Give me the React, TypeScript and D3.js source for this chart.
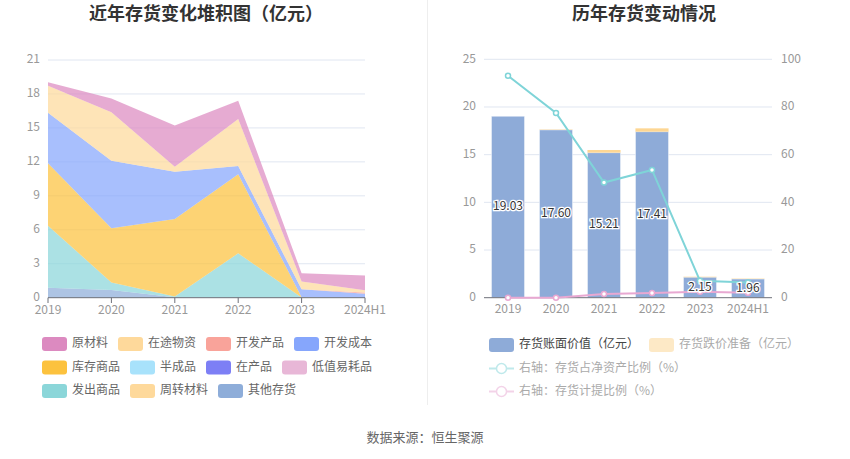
import React from 'react';
import * as d3 from 'd3';

const years = ['2019', '2020', '2021', '2022', '2023', '2024H1'];

// Left chart: stacked inventory composition (亿元)
const 原材料 = [0.30, 1.22, 3.63, 1.62, 0.71, 1.31];
const 在途物资 = [2.38, 4.27, 0.45, 4.16, 0.70, 0.20];
const 开发产品 = [0, 0, 0, 0, 0, 0.10];
const 开发成本 = [4.48, 5.98, 4.18, 0.73, 0.69, 0.35];
const 库存商品 = [5.51, 4.78, 6.85, 6.98, 0.03, 0];
const 半成品 = [0, 0, 0, 0, 0, 0];
const 在产品 = [0, 0, 0, 0, 0, 0];
const 低值易耗品 = [0, 0, 0, 0, 0, 0];
const 发出商品 = [5.48, 0.67, 0.05, 3.92, 0.02, 0];
const 周转材料 = [0, 0, 0, 0, 0, 0];
const 其他存货 = [0.88, 0.68, 0.05, 0, 0, 0];

const leftTicks = [0, 3, 6, 9, 12, 15, 18, 21];

// Right chart
const 账面价值 = [19.03, 17.60, 15.21, 17.41, 2.15, 1.96];
const 跌价准备 = [0, 0.04, 0.28, 0.35, 0.05, 0.04];
const 占净资产比例 = [93.1, 77.5, 48.3, 53.6, 7.1, 6.4];
const 计提比例 = [0, 0, 1.6, 2.0, 2.5, 2.1];
const rightTicksL = [0, 5, 10, 15, 20, 25];
const rightTicksR = [0, 20, 40, 60, 80, 100];

const legendNames = ['原材料', '在途物资', '开发产品', '开发成本', '库存商品', '半成品', '在产品', '低值易耗品', '发出商品', '周转材料', '其他存货'];
const legendColors = ['#dc8ac0', '#fed99b', '#f9a39a', '#86a6fc', '#fcc23e', '#a8e2fb', '#7d7ff5', '#e8b7d7', '#8bd6d9', '#fed99b', '#8eadd9'];
const seriesValues: Record<string, number[]> = { 原材料, 在途物资, 开发产品, 开发成本, 库存商品, 半成品, 在产品, 低值易耗品, 发出商品, 周转材料, 其他存货 };

const FONT = "'Noto Sans CJK SC', 'Noto Sans', sans-serif";

export default function App() {
  // ---------- Left chart ----------
  const lx = d3.scalePoint<string>().domain(years).range([48, 365]);
  const ly = d3.scaleLinear().domain([0, 21]).range([297.7, 60]);
  const stackKeys = [...legendNames].reverse();
  const table = years.map((y, i) => {
    const row: any = { year: y };
    legendNames.forEach((n) => (row[n] = seriesValues[n][i]));
    return row;
  });
  const stacked = d3.stack<any>().keys(stackKeys)(table);
  const area = d3
    .area<any>()
    .x((d) => lx(d.data.year) as number)
    .y0((d) => ly(d[0]))
    .y1((d) => ly(d[1]));
  const colorOf = (n: string) => legendColors[legendNames.indexOf(n)];

  // Left legend layout (flow)
  const legendItems: { name: string; color: string; x: number; y: number }[] = [];
  {
    const startX = 42;
    const maxX = 380;
    let x = startX;
    let y = 344;
    legendNames.forEach((n, i) => {
      const w = 25 + 5 + n.length * 12;
      if (x + w > maxX) {
        x = startX;
        y += 23.5;
      }
      legendItems.push({ name: n, color: legendColors[i], x, y });
      x += w + 10;
    });
  }

  // ---------- Right chart ----------
  const rx = d3.scaleBand<string>().domain(years).range([484, 772]).padding(0);
  const ryL = d3.scaleLinear().domain([0, 25]).range([297.7, 59.3]);
  const ryR = d3.scaleLinear().domain([0, 100]).range([297.7, 59.3]);
  const barW = rx.bandwidth() * 0.69;
  const cx = (y: string) => (rx(y) as number) + rx.bandwidth() / 2;
  const line = d3
    .line<number>()
    .x((_, i) => cx(years[i]))
    .y((d) => ryR(d));

  const tealColor = '#7fd4d8';
  const pinkColor = '#e8a8d2';

  return (
    <svg
      width={850}
      height={459}
      style={{ position: 'absolute', left: 0, top: 0, background: '#fff', fontFamily: FONT }}
    >
      {/* Titles */}
      <text x={206} y={20} textAnchor="middle" fontSize={18} fontWeight="bold" fill="#333">
        近年存货变化堆积图（亿元）
      </text>
      <text x={644} y={20} textAnchor="middle" fontSize={18} fontWeight="bold" fill="#333">
        历年存货变动情况
      </text>
      {/* divider */}
      <line x1={427.5} x2={427.5} y1={0} y2={405} stroke="#eeeeee" strokeWidth={1} />

      {/* ---------- Left chart ---------- */}
      <g>
        {leftTicks.map((t) => (
          <g key={t}>
            {t !== 0 && (
              <line x1={48} x2={365} y1={ly(t)} y2={ly(t)} stroke="#e0e6f1" strokeWidth={1} />
            )}
            <text x={40} y={ly(t)} textAnchor="end" dominantBaseline="middle" fontSize={12} fill="#999">
              {t}
            </text>
          </g>
        ))}
        {stacked.map((s) => (
          <path key={s.key} d={area(s) || ''} fill={colorOf(s.key)} fillOpacity={0.72} stroke="none" />
        ))}
        <line x1={48} x2={365} y1={297.7} y2={297.7} stroke="#6e7079" strokeWidth={1} />
        {years.map((y) => (
          <g key={y}>
            <line x1={lx(y)} x2={lx(y)} y1={297.7} y2={303} stroke="#6e7079" strokeWidth={1} />
            <text x={lx(y)} y={311} textAnchor="middle" dominantBaseline="middle" fontSize={12} fill="#999">
              {y}
            </text>
          </g>
        ))}
        {legendItems.map((it) => (
          <g key={it.name}>
            <rect x={it.x} y={it.y - 7} width={25} height={14} rx={3} fill={it.color} />
            <text x={it.x + 30} y={it.y} dominantBaseline="middle" fontSize={12} fill="#666">
              {it.name}
            </text>
          </g>
        ))}
      </g>

      {/* ---------- Right chart ---------- */}
      <g>
        {rightTicksL.map((t, i) => (
          <g key={t}>
            {t !== 0 && (
              <line x1={484} x2={772} y1={ryL(t)} y2={ryL(t)} stroke="#e0e6f1" strokeWidth={1} />
            )}
            <text x={476} y={ryL(t)} textAnchor="end" dominantBaseline="middle" fontSize={12} fill="#999">
              {t}
            </text>
            <text x={781} y={ryR(rightTicksR[i])} textAnchor="start" dominantBaseline="middle" fontSize={12} fill="#999">
              {rightTicksR[i]}
            </text>
          </g>
        ))}
        {years.map((y, i) => (
          <g key={y}>
            <rect
              x={cx(y) - barW / 2}
              y={ryL(账面价值[i])}
              width={barW}
              height={ryL(0) - ryL(账面价值[i])}
              fill="#8eabd8"
              stroke="rgba(255,255,255,0.5)"
              strokeWidth={1}
            />
            {跌价准备[i] > 0 && (
              <rect
                x={cx(y) - barW / 2}
                y={ryL(账面价值[i] + 跌价准备[i])}
                width={barW}
                height={ryL(账面价值[i]) - ryL(账面价值[i] + 跌价准备[i])}
                fill="#fdd693"
              />
            )}
          </g>
        ))}
        <line x1={484} x2={772} y1={297.7} y2={297.7} stroke="#6e7079" strokeWidth={1} />
        {years.map((y) => (
          <text key={y} x={cx(y)} y={310} textAnchor="middle" dominantBaseline="middle" fontSize={12} fill="#999">
            {y}
          </text>
        ))}
        <path d={line(占净资产比例) || ''} fill="none" stroke={tealColor} strokeWidth={2} />
        <path d={line(计提比例) || ''} fill="none" stroke={pinkColor} strokeWidth={2} />
        {占净资产比例.map((v, i) => (
          <circle key={'t' + i} cx={cx(years[i])} cy={ryR(v)} r={2.5} fill="#fff" stroke={tealColor} strokeWidth={1.5} />
        ))}
        {计提比例.map((v, i) => (
          <circle key={'p' + i} cx={cx(years[i])} cy={ryR(v)} r={2.5} fill="#fff" stroke={pinkColor} strokeWidth={1.5} />
        ))}
        {years.map((y, i) => (
          <text
            key={'l' + y}
            x={cx(y)}
            y={ryL(账面价值[i] / 2)}
            textAnchor="middle"
            dominantBaseline="middle"
            fontSize={12}
            fill="#333"
            stroke="#fff"
            strokeWidth={2.5}
            paintOrder="stroke"
          >
            {账面价值[i].toFixed(2)}
          </text>
        ))}

        {/* Right legend */}
        <rect x={489} y={338} width={25} height={14} rx={3} fill="#8eabd8" />
        <text x={519} y={345} dominantBaseline="middle" fontSize={12} fill="#444">
          存货账面价值（亿元）
        </text>
        <rect x={649} y={338} width={25} height={14} rx={3} fill="#fde9c6" />
        <text x={679} y={345} dominantBaseline="middle" fontSize={12} fill="#aaa">
          存货跌价准备（亿元）
        </text>
        <line x1={489} x2={514} y1={368.5} y2={368.5} stroke="#bfe9eb" strokeWidth={2} />
        <circle cx={501.5} cy={368.5} r={5} fill="#fff" stroke="#bfe9eb" strokeWidth={1.5} />
        <text x={519} y={368.5} dominantBaseline="middle" fontSize={12} fill="#aaa">
          右轴：存货占净资产比例（%）
        </text>
        <line x1={489} x2={514} y1={391.5} y2={391.5} stroke="#f3d3e8" strokeWidth={2} />
        <circle cx={501.5} cy={391.5} r={5} fill="#fff" stroke="#f3d3e8" strokeWidth={1.5} />
        <text x={519} y={391.5} dominantBaseline="middle" fontSize={12} fill="#aaa">
          右轴：存货计提比例（%）
        </text>
      </g>

      {/* Source */}
      <text x={425} y={438} textAnchor="middle" dominantBaseline="middle" fontSize={13} fill="#666">
        数据来源：恒生聚源
      </text>
    </svg>
  );
}
